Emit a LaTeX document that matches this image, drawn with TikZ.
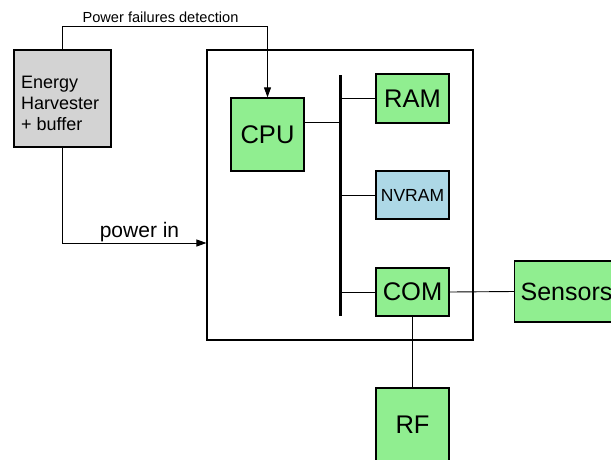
\documentclass[tikz,border=0pt]{standalone}
\usepackage{fontspec}
\setmainfont{Liberation Sans}
\usetikzlibrary{arrows.meta}
\definecolor{boxgreen}{HTML}{90EE90}
\definecolor{boxgray}{HTML}{D3D3D3}
\definecolor{boxblue}{HTML}{ADD8E6}
\begin{document}
\begin{tikzpicture}[x=1pt,y=-1pt,
  blk/.style={draw, line width=1.3pt, inner sep=0pt, font=\fontsize{25.5}{30}\selectfont},
  conn/.style={line width=0.9pt},
  arr/.style={conn, -{Triangle[length=10pt,width=7pt]}},
  lbl/.style={inner sep=0pt}
]
\clip (0,0) rectangle (611,459);
\fill[white] (0,0) rectangle (611,459);
% frame
\node[draw, line width=1.1pt, minimum width=266pt, minimum height=290pt, inner sep=0pt] (main) at (340,195) {};
% blocks
\node[blk, fill=boxgray, minimum width=97pt, minimum height=97pt] (energy) at (62.5,98.5) {};
\node[lbl, anchor=west, align=left, font=\fontsize{18}{21}\selectfont] (energytxt) at (21,103) {Energy\\Harvester\\+ buffer};
\node[blk, fill=boxgreen, minimum width=73pt, minimum height=73pt] (cpu) at (267.5,134.5) {CPU};
\node[blk, fill=boxgreen, minimum width=73pt, minimum height=49pt] (ram) at (412.5,98.5) {RAM};
\node[blk, fill=boxblue, minimum width=73pt, minimum height=48pt, font=\fontsize{17.5}{20}\selectfont] (nvram) at (412.5,195) {NVRAM};
\node[blk, fill=boxgreen, minimum width=73pt, minimum height=48pt] (com) at (412.5,292) {COM};
\node[blk, fill=boxgreen, anchor=west, inner xsep=6pt, minimum height=61pt, font=\fontsize{25}{30}\selectfont] (sensors) at (514,291.5) {Sensors};
\node[blk, fill=boxgreen, minimum width=73pt, minimum height=73pt] (rf) at (412.5,424.5) {RF};
% bus
\coordinate (bustop) at (340,75);
\coordinate (busbot) at (340,316);
\draw[line width=3pt] (bustop) -- (busbot);
\draw[conn] ([yshift=12pt]cpu.east) -- ([yshift=12pt]cpu.east -| bustop);
\draw[conn] (ram.west) -- (ram.west -| bustop);
\draw[conn] (nvram.west) -- (nvram.west -| bustop);
\draw[conn] (com.west) -- (com.west -| bustop);
\draw[conn] (com.east) -- (sensors.west);
\draw[conn] (com.south) -- (rf.north);
% power failures detection
\coordinate (pfrow) at (0,26);
\draw[arr] (energy.north) -- (energy.north |- pfrow) -| (cpu.north);
\node[lbl, anchor=base, font=\fontsize{14.6}{16}\selectfont] (pflabel) at (160.5,22) {Power failures detection};
% power in
\coordinate (pinrow) at (0,243);
\draw[arr] (energy.south) |- (main.west |- pinrow);
\node[lbl, anchor=base, font=\fontsize{21}{24}\selectfont] (pinlabel) at (139.5,237) {power in};
\end{tikzpicture}
\end{document}
